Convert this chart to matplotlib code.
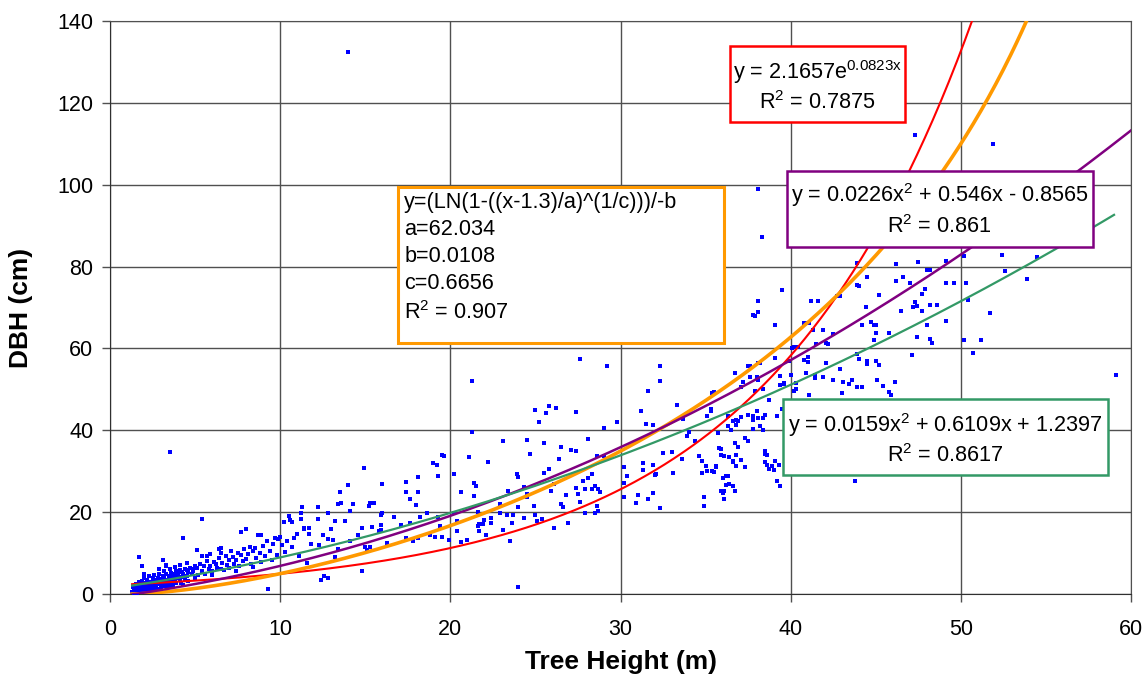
import matplotlib.pyplot as plt
import numpy as np
from matplotlib.patches import Rectangle

plt.rcParams['font.family'] = ['Liberation Sans', 'DejaVu Sans']
plt.rcParams['mathtext.fontset'] = 'custom'
plt.rcParams['mathtext.rm'] = 'Liberation Sans'

# tree height (m), DBH (cm)
trees = [
    (1.3,0.5),(1.4,1.0),(1.5,0.6),(1.5,1.5),(1.6,0.8),(1.6,2.0),(1.7,1.2),(1.7,0.4),(1.8,1.8),(1.8,2.6),
    (1.9,1.0),(1.9,3.2),(2.0,1.5),(2.0,2.2),(2.1,0.7),(2.1,2.8),(2.2,1.9),(2.2,3.5),(2.3,1.2),(2.3,2.5),
    (2.4,3.0),(2.4,1.6),(2.5,2.1),(2.5,3.8),(2.6,1.4),(2.6,2.7),(2.7,3.3),(2.7,2.0),(2.8,1.1),(2.8,4.0),
    (2.9,2.4),(2.9,3.0),(3.0,1.8),(3.0,3.6),(3.1,2.6),(3.1,4.4),(3.2,2.0),(3.2,3.1),(3.3,4.8),(3.3,2.8),
    (3.4,3.5),(3.4,1.6),(3.5,4.1),(3.5,2.5),(3.6,3.0),(3.6,5.2),(3.7,3.8),(3.7,2.2),(3.8,4.5),(3.8,3.2),
    (3.9,5.6),(3.9,2.8),(4.0,3.9),(4.0,4.8),(4.1,3.4),(4.1,5.9),(4.2,4.2),(4.2,2.6),(4.3,5.0),(4.4,3.7),
    (4.4,6.1),(4.5,4.4),(4.6,5.4),(4.6,3.2),(4.7,6.4),(4.8,4.9),(4.9,5.7),(5.0,3.9),(5.0,6.8),(1.4,0.3),
    (1.6,0.3),(2.0,0.4),(2.4,0.8),(2.6,0.5),(1.8,0.6),(2.2,0.9),(3.0,1.0),(2.5,1.0),(3.6,1.8),(4.3,2.2),
    (1.5,2.5),(1.7,3.0),(2.0,3.8),(2.3,4.3),(2.6,4.6),(2.9,5.0),(3.2,5.6),(3.5,6.2),(3.8,6.6),(4.1,7.0),
    (2.9,6.0),(3.3,7.0),(4.5,7.6),(1.7,9.1),(1.9,6.9),(2.0,4.8),(3.1,8.3),(3.3,6.9),(3.5,34.8),
    (4.3,13.8),(5.1,10.7),(5.4,18.3),(5.7,9.3),
    (1.35,1.8),(1.45,2.2),(1.55,1.2),(1.65,1.6),(1.75,2.3),(1.85,1.4),(1.95,2.0),(2.05,2.6),(2.15,1.6),(2.25,3.0),
    (2.35,2.0),(2.45,2.6),(2.55,3.2),(2.65,2.3),(2.75,2.9),(2.85,3.5),(2.95,2.6),(3.05,3.2),(3.15,3.8),(3.25,2.5),
    (3.45,4.4),(3.55,3.5),(3.75,4.9),(3.95,4.3),(4.25,5.4),(4.55,5.9),(4.85,6.2),
    (5.1,6.4),(5.2,4.6),(5.3,7.4),(5.4,5.6),(5.4,9.2),(5.5,6.8),(5.6,4.9),(5.7,8.0),(5.8,6.1),(5.9,6.8),
    (5.9,9.8),(6.0,5.5),(6.1,7.8),(6.2,7.3),(6.3,6.3),(6.4,8.8),(6.5,6.2),(6.5,11.2),(6.5,10.0),(6.6,7.6),
    (6.7,5.8),(6.8,9.2),(6.9,7.0),(7.0,8.3),(7.0,6.4),(7.1,10.5),(7.2,9.0),(7.3,7.4),(7.4,8.2),(7.5,10.1),
    (7.6,6.8),(7.7,15.2),(7.7,9.6),(7.8,8.0),(7.9,11.0),(8.0,16.0),(8.0,8.6),(8.1,9.8),(8.2,11.6),(8.3,7.4),
    (8.4,10.4),(8.5,11.3),(8.6,8.9),(8.7,14.4),(8.8,10.0),(8.9,14.4),(8.9,7.8),(9.0,11.8),(9.1,9.2),(9.2,13.0),
    (9.3,1.1),(9.4,10.6),(9.5,8.4),(9.6,12.2),(9.7,13.8),(9.8,9.6),(9.9,13.4),(6.0,4.6),(7.4,5.6),(8.4,6.6),
    (6.4,11.1),
    (10.0,14.0),(10.1,12.0),(10.2,17.6),(10.3,10.2),(10.4,13.0),(10.5,19.0),(10.6,18.0),(10.7,11.4),(10.7,17.6),(10.8,13.7),
    (11.0,14.6),(11.1,9.4),(11.2,19.8),(11.2,18.4),(11.3,21.3),(11.4,15.8),(11.4,16.2),(11.6,7.6),(11.7,14.6),(11.7,16.2),
    (11.8,12.2),(12.2,21.3),(12.2,18.4),(12.3,12.0),(12.4,3.5),(12.5,14.4),(12.6,4.3),(12.8,4.0),(12.8,19.7),(12.8,13.4),
    (13.0,16.0),(13.1,13.3),(13.2,17.8),(13.2,9.1),(13.4,11.0),(13.4,22.1),(13.5,25.0),(13.6,22.3),(13.8,17.9),(14.0,26.6),
    (14.1,20.2),(14.1,13.0),(14.3,22.0),(14.6,14.4),(14.8,5.6),(14.8,16.1),(14.0,132.3),
    (14.9,30.9),(15.0,11.5),(15.1,10.7),(15.2,21.5),(15.3,22.3),(15.3,11.4),(15.4,16.3),(15.5,22.3),(15.8,15.5),(15.9,19.4),
    (15.9,16.8),(15.9,15.6),(16.0,26.8),(16.0,19.7),(16.3,12.5),(16.7,18.7),(17.1,16.8),(17.4,27.3),(17.4,25.0),(17.4,13.8),
    (17.6,23.1),(17.6,17.3),(17.8,13.0),(18.0,21.8),(18.1,28.5),(18.1,25.0),(18.1,13.8),(18.2,18.7),(18.6,19.8),(18.8,14.3),
    (19.0,31.9),(19.1,13.9),(19.2,31.6),(19.3,28.8),(19.3,18.8),(19.4,16.5),(19.5,34.0),(19.5,14.0),(19.6,33.7),(19.9,13.1),
    (20.2,29.3),(20.2,19.8),(20.4,17.8),(20.4,15.4),(20.6,25.0),(20.6,12.7),(21.0,13.3),(21.1,33.5),(21.3,52.1),(21.3,39.6),
    (21.4,27.0),(21.5,26.5),(21.4,24.0),(21.6,20.0),(21.6,16.6),(21.7,15.4),(21.7,17.0),(21.9,17.0),(22.0,18.0),(22.2,32.2),
    (22.4,18.5),(22.1,14.5),(22.4,17.3),(22.9,22.1),(22.9,19.7),(23.1,37.5),(23.1,15.7),(23.3,19.3),(23.4,25.2),(23.5,13.0),
    (23.6,17.4),(23.7,19.2),(23.9,29.3),(24.0,28.5),(24.0,21.3),(24.0,1.6),(24.3,26.2),(24.3,18.6),(24.5,37.6),(24.5,24.4),
    (24.5,23.8),(24.7,34.2),(24.9,21.4),(25.0,45.0),(25.2,41.9),(25.0,19.4),(25.1,17.8),(25.4,18.3),(25.5,37.0),(25.5,29.5),
    (25.6,44.3),(25.8,45.9),(25.8,30.6),(25.9,25.2),(26.1,26.8),(26.1,16.1),(26.2,45.4),(26.4,33.1),(26.5,36.0),(26.5,22.0),
    (26.6,21.2),(26.8,24.1),(26.9,17.3),(27.1,35.3),(27.4,44.5),(27.4,35.0),(27.6,57.4),(27.5,24.4),(27.6,22.4),(27.9,25.6),
    (28.1,37.8),(28.3,29.3),(28.3,25.6),(28.5,19.9),(28.6,33.8),(27.4,26.0),(27.8,27.5),(28.1,28.4),(28.5,26.5),(27.9,19.9),
    (28.6,21.5),(28.7,20.3),(28.7,25.6),(28.8,24.8),(29.0,33.7),(29.0,40.6),(29.2,55.6),(29.8,42.1),
    (30.2,31.1),(31.3,32.0),(31.3,30.3),(30.4,28.8),(30.2,27.0),(31.9,31.4),(32.0,29.0),(32.1,29.3),(32.5,34.5),(33.0,34.7),
    (33.6,33.0),(33.1,29.6),(31.9,24.7),(31.6,23.3),(31.0,24.1),(30.9,22.3),(30.2,23.6),(32.3,21.0),(31.2,44.8),(31.5,41.5),
    (31.9,41.2),(31.6,49.7),(32.3,55.6),(32.3,52.0),(33.3,46.2),(33.7,42.7),(33.9,38.6),(34.0,39.5),(34.4,37.4),(35.1,43.5),
    (35.3,44.8),(35.5,49.4),(36.3,43.5),(36.7,54.1),(36.9,42.2),(36.8,42.5),(37.2,51.9),(37.5,55.6),(37.8,43.5),(38.2,56.4),
    (38.0,53.0),(38.4,42.9),(37.8,40.3),(38.4,40.1),(38.7,47.3),(39.1,57.6),(39.6,51.4),(40.1,60.0),(40.2,49.7),(39.5,45.2),
    (37.9,49.7),(37.1,43.3),(36.5,40.0),
    (34.9,23.7),(34.9,21.6),(34.8,32.5),(35.1,30.0),(35.5,29.8),(35.6,31.0),(35.9,33.9),(36.1,33.8),(36.0,28.4),(36.2,26.6),
    (36.4,26.9),(36.1,25.1),(36.1,23.3),(36.7,25.1),(36.6,32.2),(36.8,31.2),(37.1,32.8),(37.3,31.0),(37.5,37.3),(36.9,36.0),
    (38.5,34.2),(38.5,32.2),(38.7,30.6),(39.0,30.2),(39.3,31.6),(39.4,26.5),(35.4,49.2),(35.3,45.1),(35.1,43.4),(37.1,50.6),
    (37.6,53.0),(38.1,52.3),(38.4,50.0),(36.6,42.2),(36.8,41.4),(37.5,43.8),(37.8,42.6),(38.0,44.6),(38.1,43.0),(38.5,43.8),
    (38.2,41.0),(36.3,41.0),(35.7,39.3),(35.8,35.6),(35.9,35.4),(36.7,37.0),(37.3,38.2),(36.4,33.4),(36.6,32.5),(36.8,34.0),
    (38.5,35.0),(38.6,31.5),(38.9,31.2),(39.1,32.5),(39.2,27.6),(36.2,28.8),(36.3,28.8),(36.6,26.5),(35.9,25.1),(36.0,24.7),
    (35.4,30.0),(35.6,31.2),(35.0,31.2),(34.8,29.6),(34.6,33.6),(39.2,43.6),(38.6,34.0),(43.8,27.6),
    (38.1,99.0),(38.3,87.2),(39.5,74.3),(38.1,71.5),(38.1,68.8),(37.9,68.0),(39.1,65.8),(41.6,71.5),(40.9,66.3),(41.1,66.3),
    (41.3,64.4),(41.5,61.0),(40.2,60.3),(37.6,55.6),(38.1,56.4),(39.1,57.6),(39.4,53.2),(39.9,57.0),(39.4,51.0),(37.8,68.2),
    (47.3,112.1),(51.9,110.0),(59.1,53.4),(46.2,80.7),(47.5,81.0),(48.0,79.2),(48.2,79.2),(49.1,81.3),(50.2,82.6),(49.1,76.1),
    (49.6,76.1),(50.3,76.0),(52.4,82.9),(52.6,79.0),(53.9,77.0),(54.5,82.4),(50.4,71.9),(51.7,68.6),(51.2,62.1),(50.7,59.0),
    (50.2,62.0),(49.1,66.7),(48.6,70.5),(48.2,70.5),(48.0,65.6),(48.2,62.4),(48.3,61.4),(47.4,62.8),(47.4,70.3),(47.2,70.2),
    (47.3,71.3),(47.7,73.3),(47.9,74.6),(47.7,69.1),(46.5,69.2),(46.6,77.5),(46.2,76.5),(47.0,76.0),(45.2,73.1),(44.5,77.4),
    (44.4,70.1),(44.2,65.7),(44.7,66.5),(44.9,65.8),(45.0,65.8),(44.9,62.1),(45.0,63.7),(45.8,63.7),(44.0,75.2),(43.9,80.8),
    (42.9,72.8),(41.2,71.6),(41.9,64.4),(42.1,61.2),(42.2,61.0),(42.5,63.5),(40.8,66.3),(40.4,60.3),(41.0,57.8),(41.0,56.7),
    (40.8,57.2),(47.1,58.4),(43.9,58.6),(44.0,57.4),(44.5,57.0),(44.5,56.2),(45.0,57.0),(45.2,56.0),(42.9,55.0),(42.1,56.4),
    (41.9,53.0),(41.4,53.6),(41.4,52.8),(40.9,53.9),(40.0,53.4),(39.6,51.6),(40.3,50.0),(40.3,51.6),(42.5,52.3),(43.1,51.9),
    (43.4,51.2),(43.6,52.3),(43.9,50.5),(44.2,50.5),(45.1,52.3),(45.4,50.9),(46.1,51.9),(45.8,49.3),(45.9,48.5),(43.0,49.1),
    (41.1,48.7),(42.7,72.9),(43.9,75.5),
]
height = np.array([t[0] for t in trees])
dbh = np.array([t[1] for t in trees])

# fitted models shown in the boxes
exp_a, exp_b = 2.1657, 0.0823
quad1 = (0.0226, 0.546, -0.8565)
quad2 = (0.0159, 0.6109, 1.2397)
wa, wb, wc = 62.034, 0.0108, 0.6656

fig = plt.figure(figsize=(11.47, 6.76), dpi=100)
ax = fig.add_axes([0.0959, 0.1213, 0.8902, 0.8477])

ax.scatter(height, dbh, s=5, marker='s', color='#0000FF', linewidths=0, zorder=3)

x = np.linspace(1.3, 60, 500)
ax.plot(x, exp_a * np.exp(exp_b * x), color='#FF0000', lw=1.5, zorder=4)
xo = np.linspace(1.3, 56, 500)
ax.plot(xo, np.log(1 - ((xo - 1.3) / wa) ** (1 / wc)) / -wb, color='#FF9900', lw=2.6, zorder=4)
ax.plot(x, quad1[0] * x**2 + quad1[1] * x + quad1[2], color='#800080', lw=1.8, zorder=4)
xg = np.linspace(1.3, 59, 500)
ax.plot(xg, quad2[0] * xg**2 + quad2[1] * xg + quad2[2], color='#339966', lw=1.6, zorder=4)

ax.set_xlim(0, 60)
ax.set_ylim(0, 140)
ax.set_xticks(range(0, 61, 10))
ax.set_yticks(range(0, 141, 20))
ax.grid(True, color='#505050', lw=1)
ax.set_axisbelow(True)
ax.tick_params(labelsize=15.5, length=6, width=1, color='#505050', pad=6)
ax.tick_params(axis='x', pad=12)
for s in ax.spines.values():
    s.set_color('#505050')
ax.spines['left'].set_color('#303030')
ax.spines['bottom'].set_color('#303030')

ax.set_xlabel('Tree Height (m)', fontsize=19, fontweight='bold')
ax.set_ylabel('DBH (cm)', fontsize=19, fontweight='bold')
ax.xaxis.set_label_coords(0.5, -0.098)
ax.yaxis.set_label_coords(-0.075, 0.5)

fs = 15.6
def box(x0, x1, y0, y1, color, lw):
    ax.add_patch(Rectangle((x0, y0), x1 - x0, y1 - y0, facecolor='white',
                           edgecolor=color, lw=lw, zorder=6, clip_on=False))

box(16.94, 36.06, 61.4, 99.5, '#FF9900', 2.2)
lines = ['y=(LN(1-((x-1.3)/a)^(1/c)))/-b', 'a=62.034', 'b=0.0108', 'c=0.6656', 'R$^{2}$ = 0.907']
for i, t in enumerate(lines):
    ax.text(17.3, 95.6 - 6.6 * i - (0.5 if i == 4 else 0), t, fontsize=fs, ha='left', va='center', zorder=7)

box(36.41, 46.71, 115.4, 134.0, '#FF0000', 1.8)
ax.text(41.56, 127.5, 'y = 2.1657e$^{\\mathrm{0.0823x}}$', fontsize=fs, ha='center', va='center', zorder=7)
ax.text(41.56, 120.0, 'R$^{2}$ = 0.7875', fontsize=fs, ha='center', va='center', zorder=7)

box(39.76, 57.76, 84.8, 103.4, '#800080', 1.8)
ax.text(48.76, 97.4, 'y = 0.0226x$^{2}$ + 0.546x - 0.8565', fontsize=fs, ha='center', va='center', zorder=7)
ax.text(48.76, 89.8, 'R$^{2}$ = 0.861', fontsize=fs, ha='center', va='center', zorder=7)

box(39.53, 58.65, 29.1, 47.7, '#339966', 1.8)
ax.text(49.09, 41.3, 'y = 0.0159x$^{2}$ + 0.6109x + 1.2397', fontsize=fs, ha='center', va='center', zorder=7)
ax.text(49.09, 33.9, 'R$^{2}$ = 0.8617', fontsize=fs, ha='center', va='center', zorder=7)

fig.savefig('out.png', dpi=100)
